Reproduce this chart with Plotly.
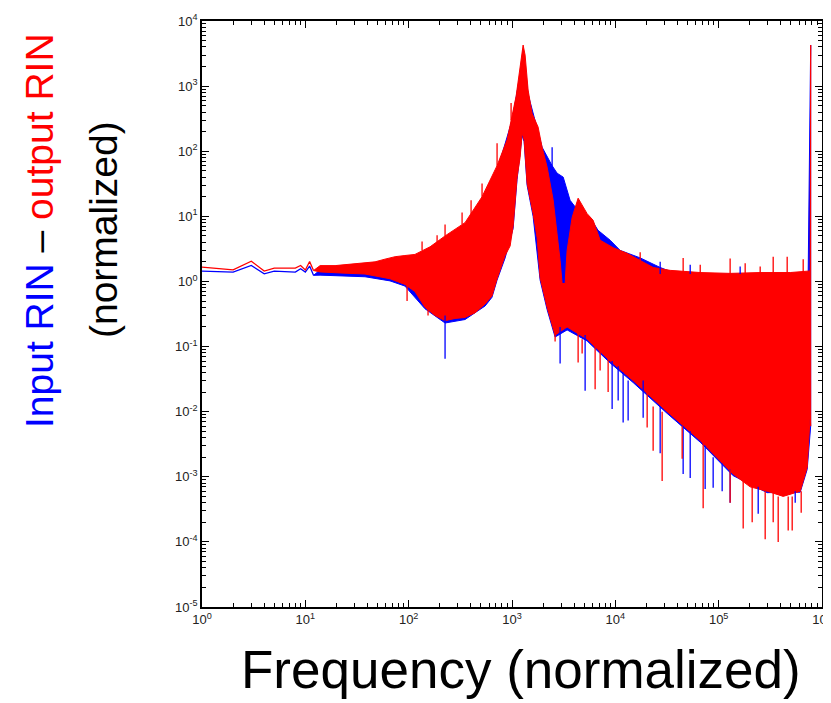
import plotly.graph_objects as go

# low-frequency bins, drawn as plain lines
low_f = [1, 2, 3, 4, 5, 6, 7, 8, 9, 10, 11, 12]
red_low = [1.66, 1.51, 2.05, 1.44, 1.6, 1.6, 1.6, 1.6, 1.76, 1.5, 2.03, 1.47]
blue_low = [1.44, 1.39, 1.76, 1.31, 1.44, 1.42, 1.42, 1.39, 1.57, 1.39, 1.72, 1.24]

# dense part: envelope of the red (output) spectrum
red_up_f = [12, 13.9, 19.4, 24.2, 30.3, 37.8, 47.3, 59, 73.9, 92, 115, 161, 225,
            351, 513, 717, 897, 1096, 1198, 1281, 1339, 1432, 1565, 1789, 1956,
            2186, 2500, 2733, 2921, 3055, 3266, 3415, 3818, 4364, 5333, 6100, 7125, 9522, 13010,
            17390, 23220, 33950, 66290, 129100, 252200, 492400, 735000, 769000, 777000]
red_up = [1.47, 1.75, 1.75, 1.8, 1.85, 1.9, 2.0, 2.2, 2.4, 2.5, 2.6, 3.4, 5,
          8, 20, 60, 150, 700, 1800, 4270, 3000, 870, 380, 235, 115,
          57, 18, 5.5, 2.1, 0.93, 0.93, 3.0, 9.6, 19, 11, 8.7, 4.3, 3.3, 2.7,
          2.1, 1.64, 1.48, 1.37, 1.33, 1.37, 1.37, 1.45, 1.45, 4270]
red_lo_f = [12, 13.9, 21.7, 37.8, 66, 92, 115, 144, 180, 225, 281, 351, 439, 549, 640, 717,
            858, 959, 1025, 1120, 1198, 1253, 1310, 1400, 1601, 1750, 1871, 2186, 2613, 3415,
            5333, 8906, 14870, 31740, 66290, 138100, 201700, 294900, 421000, 615400, 719000,
            769000, 777000]
red_lo = [1.47, 1.4, 1.35, 1.3, 1.1, 0.9, 0.7, 0.4, 0.3, 0.25, 0.27, 0.28, 0.33, 0.45, 0.6, 1.1,
          2.5, 3.5, 7, 40, 80, 190, 150, 32, 11, 4.7, 1.15, 0.4, 0.15, 0.2,
          0.13, 0.06, 0.03, 0.01, 0.0036, 0.0011, 0.0007, 0.0006, 0.0005, 0.0006, 0.0014,
          0.009, 0.006]

# dense part: envelope of the blue (input) spectrum
blue_up_f = [12, 13.9, 19.4, 30.3, 47.3, 73.9, 115, 161, 225, 351, 513, 717, 1002, 1198, 1281,
             1432, 1789, 1956, 2445, 2733, 3130, 3650, 4080, 5000, 5700, 6800, 8906, 11130,
             17390, 27160, 42430, 66290, 252200, 735000, 777000]
blue_up = [1.24, 1.5, 1.55, 1.6, 1.7, 2.0, 2.3, 3.0, 4.4, 7, 17, 50, 300, 1500, 3600,
           750, 200, 115, 60, 46, 40, 17.6, 14, 11, 9.6, 6.1, 4.3, 3.0,
           2.3, 1.64, 1.24, 1.3, 1.3, 1.35, 4270]
blue_lo_f = [12, 13.9, 37.8, 66, 92, 144, 225, 351, 549, 640, 717, 858, 1025, 1120, 1253, 1310,
             1400, 1601, 1871, 2186, 2613, 3415, 5333, 8906, 14870, 31740, 66290, 138100,
             294900, 615400, 719000, 777000]
blue_lo = [1.24, 1.25, 1.18, 1.02, 0.85, 0.38, 0.23, 0.26, 0.42, 0.57, 1.05, 2.3, 6.5, 37, 175, 140,
           30, 10, 1.05, 0.37, 0.14, 0.18, 0.122, 0.056, 0.028, 0.0094, 0.0034, 0.00104,
           0.00057, 0.00058, 0.0013, 0.006]

# single spikes sticking out of the envelopes: frequency, tip, base
red_spk_f = [96.5, 154, 2613, 4364, 4771, 6374, 7125, 8517, 20320, 23220, 28380, 44330, 70790,
             129100, 172700, 211000, 281900, 337000, 376700, 470900, 514600, 629000,
             134.8, 188.4, 225, 328.8, 401.8, 513, 717, 980,
             17390, 45320, 66290, 129100, 180500, 252200, 337000, 460300, 657700]
red_spk_tip = [0.5, 0.3, 0.12, 0.057, 0.078, 0.022, 0.043, 0.02, 0.0057, 0.0025, 0.00086, 0.0019,
               0.00033, 0.0004, 0.00016, 0.0002, 0.00011, 0.0002, 0.0001, 0.00015, 0.00015, 0.00028,
               4.1, 5.1, 7.5, 11.5, 17.6, 32, 133, 550,
               2.8, 2.3, 1.8, 2.26, 1.9, 1.7, 2.4, 2.4, 2.2]
red_spk_base = [1.0, 0.45, 0.3, 0.2, 0.13, 0.12, 0.1, 0.07, 0.02, 0.012, 0.01, 0.006,
                0.0035, 0.0013, 0.0009, 0.0007, 0.0006, 0.0006, 0.0005, 0.0005, 0.0005, 0.0006,
                3.0, 3.8, 5, 7.5, 10, 20, 60, 300,
                1.8, 1.4, 1.3, 1.3, 1.3, 1.3, 1.3, 1.3, 1.3]
blue_spk_f = [225, 2921, 5101, 9312, 10650, 11900, 13300, 18590, 27160, 45320, 53030, 74000,
              88450, 108100, 129100, 241300, 550400, 2445, 27160, 53030, 161400]
blue_spk_tip = [0.065, 0.055, 0.021, 0.011, 0.0148, 0.0068, 0.0073, 0.0081, 0.0023, 0.0011,
                0.00096, 0.00065, 0.00068, 0.0006, 0.0004, 0.00027, 0.0004, 115, 2.0, 1.8, 1.7]
blue_spk_base = [0.3, 0.2, 0.15, 0.06, 0.05, 0.04, 0.03, 0.03, 0.012, 0.006, 0.005, 0.003,
                 0.002, 0.0016, 0.0013, 0.0007, 0.0006, 40, 1.3, 1.3, 1.3]

BLUE = '#0000ff'
RED = '#ff0000'
FONT = 'Liberation Sans, Arial, sans-serif'


def band(f_up, v_up, f_lo, v_lo, color):
    return go.Scatter(x=f_up + f_lo[::-1], y=v_up + v_lo[::-1], mode='lines',
                      fill='toself', fillcolor=color, line=dict(color=color, width=1),
                      hoverinfo='skip', showlegend=False)


def spikes(f, tip, base, color):
    xs, ys = [], []
    for a, b, c in zip(f, tip, base):
        xs += [a, a, None]
        ys += [b, c, None]
    return go.Scatter(x=xs, y=ys, mode='lines', line=dict(color=color, width=1.3),
                      hoverinfo='skip', showlegend=False)


fig = go.Figure()
fig.add_trace(band(blue_up_f, blue_up, blue_lo_f, blue_lo, BLUE))
fig.add_trace(go.Scatter(x=low_f, y=blue_low, mode='lines', line=dict(color=BLUE, width=1.3),
                         showlegend=False))
fig.add_trace(band(red_up_f, red_up, red_lo_f, red_lo, RED))
fig.add_trace(go.Scatter(x=low_f, y=red_low, mode='lines', line=dict(color=RED, width=1.3),
                         showlegend=False))
fig.add_trace(spikes(blue_spk_f, blue_spk_tip, blue_spk_base, BLUE))
fig.add_trace(spikes(red_spk_f, red_spk_tip, red_spk_base, RED))

x_major = [10 ** k for k in range(0, 7)]
y_major = [10 ** k for k in range(-5, 5)]
x_minor = [m * 10 ** k for k in range(0, 6) for m in range(2, 10)]
y_minor = [m * 10 ** k for k in range(-5, 4) for m in range(2, 10)]

axis_common = dict(type='log', showgrid=False, zeroline=False, showline=True,
                   linecolor='black', linewidth=1.5, ticks='inside', ticklen=7,
                   tickwidth=1, tickcolor='black', mirror='allticks', automargin=False,
                   ticklabeloverflow='allow',
                   tickfont=dict(family=FONT, size=13, color='#222222'))

fig.update_xaxes(range=[0, 6], tickmode='array', tickvals=x_major,
                 ticktext=['10<sup>%d</sup>' % k for k in range(0, 7)],
                 minor=dict(tickmode='array', tickvals=x_minor, ticks='inside', ticklen=4,
                            tickcolor='black'),
                 **axis_common)
fig.update_yaxes(range=[-5, 4], tickmode='array', tickvals=y_major,
                 ticktext=['10<sup>%d</sup>' % k for k in range(-5, 5)],
                 minor=dict(tickmode='array', tickvals=y_minor, ticks='inside', ticklen=4,
                            tickcolor='black'),
                 **axis_common)

# the page body has an 8px margin, so the figure is sized and padded to sit on the window
fig.update_layout(
    width=823, height=695,
    margin=dict(l=194, r=9, t=13, b=96),
    plot_bgcolor='white', paper_bgcolor='white',
    showlegend=False,
    annotations=[
        dict(text='<span style="color:#0000ff">Input RIN</span> – '
                  '<span style="color:#ff0000">output RIN</span>',
             xref='paper', yref='paper', x=(39 - 202) / 620, y=(607 - 231) / 586,
             xanchor='center', yanchor='middle', textangle=-90, showarrow=False,
             font=dict(family=FONT, size=39, color='black')),
        dict(text='(normalized)', xref='paper', yref='paper',
             x=(103 - 202) / 620, y=(607 - 230) / 586,
             xanchor='center', yanchor='middle', textangle=-90, showarrow=False,
             font=dict(family=FONT, size=39, color='black')),
        dict(text='Frequency (normalized)', xref='paper', yref='paper',
             x=(521 - 202) / 620, y=(607 - 669) / 586,
             xanchor='center', yanchor='middle', showarrow=False,
             font=dict(family=FONT, size=53, color='black')),
    ],
)

fig.write_html("out.html")
